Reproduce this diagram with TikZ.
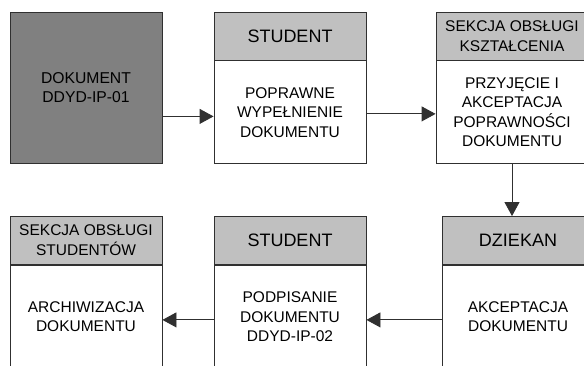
\documentclass[tikz,border=0pt]{standalone}
\usepackage{fontspec}
\setmainfont{Liberation Sans}
\usepackage{tikz}
\usepackage{xcolor}
\usetikzlibrary{positioning,arrows.meta}

\definecolor{docgray}{HTML}{808080}
\definecolor{headgray}{HTML}{C0C0C0}
\definecolor{linegray}{HTML}{303030}

\tikzset{
  box/.style={draw=linegray, line width=0.9pt, minimum width=152pt, align=center, inner sep=0pt},
  head/.style={box, fill=headgray, minimum height=48pt},
  headbig/.style={head, font=\fontsize{18}{21}\selectfont},
  headsmall/.style={head, font=\fontsize{15.5}{20}\selectfont},
  body/.style={box, fill=white, minimum height=103pt, font=\fontsize{15.5}{19.5}\selectfont},
  flow/.style={draw=linegray, line width=0.9pt, -{Triangle[length=14pt,width=15pt]}}
}

\begin{document}
\begin{tikzpicture}[x=1pt,y=-1pt]
    \useasboundingbox[clip] (0,0) rectangle (584,365);
    % top row
    \node[box, fill=docgray, minimum height=151pt, font=\fontsize{15.7}{19.5}\selectfont] (doc) at (86,87.5) {DOKUMENT\\DDYD-IP-01};
    \node[headbig] (stud1) at (290,36) {STUDENT};
    \node[body, below=0pt of stud1] (wypel) {POPRAWNE\\WYPEŁNIENIE\\DOKUMENTU};
    \node[headsmall] (sok) at (512,36) {SEKCJA OBSŁUGI\\KSZTAŁCENIA};
    \node[body, below=0pt of sok] (przyj) {PRZYJĘCIE I\\AKCEPTACJA\\POPRAWNOŚCI\\DOKUMENTU};
    % bottom row
    \node[headsmall] (sos) at (86,240.5) {SEKCJA OBSŁUGI\\STUDENTÓW};
    \node[body, below=0pt of sos] (archiw) {ARCHIWIZACJA\\DOKUMENTU};
    \node[headbig] (stud2) at (290,240.5) {STUDENT};
    \node[body, below=0pt of stud2] (podpis) {PODPISANIE\\DOKUMENTU\\DDYD-IP-02};
    \node[headbig] (dziekan) at (518,240.5) {DZIEKAN};
    \node[body, below=0pt of dziekan] (akcept) {AKCEPTACJA\\DOKUMENTU};
    % connectors
    \draw[flow] ([yshift=-4pt]doc.east |- wypel.west) -- ([yshift=-4pt]wypel.west);
    \draw[flow] ([yshift=-1.5pt]wypel.east) -- ([yshift=-1.5pt]przyj.west);
    \draw[flow] (przyj.south) -- (przyj.south |- dziekan.north);
    \draw[flow] ([yshift=-3pt]akcept.west) -- ([yshift=-3pt]podpis.east);
    \draw[flow] ([yshift=-3pt]podpis.west) -- ([yshift=-3pt]archiw.east);
\end{tikzpicture}
\end{document}
